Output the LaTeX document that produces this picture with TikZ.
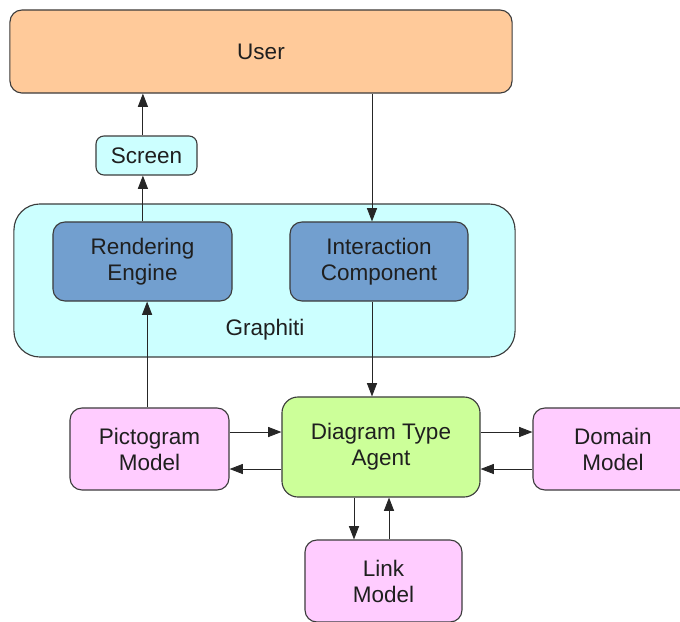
\documentclass[tikz,border=0pt]{standalone}
\usepackage{fontspec}
\setmainfont{Liberation Sans}
\usepackage{tikz}
\usetikzlibrary{arrows.meta}

\definecolor{userfill}{HTML}{FFCA9A}
\definecolor{cyanfill}{HTML}{CCFFFF}
\definecolor{bluefill}{HTML}{729FCF}
\definecolor{pinkfill}{HTML}{FFCCFF}
\definecolor{greenfill}{HTML}{CCFF99}
\definecolor{edge}{HTML}{3C3C3C}

\tikzset{
  box/.style={draw=edge,line width=0.8pt,rounded corners=0.3cm,align=center,
    text=black!88,font=\fontsize{16}{18.5}\selectfont,inner sep=0pt},
  arr/.style={-{Triangle[length=0.33cm,width=0.25cm]},line width=0.6pt,black!85}
}

\begin{document}
\begin{tikzpicture}[x=0.025cm,y=-0.025cm]
\useasboundingbox (0,0) rectangle (680,621);
% top
\node[box,fill=userfill,minimum width=12.55cm,minimum height=2.075cm] (usr) at (261,51.5) {User};
\node[box,fill=cyanfill,rounded corners=0.2cm,minimum width=2.525cm,minimum height=0.975cm] (scr) at (146.5,155.5) {Screen};
% graphiti container
\node[box,fill=cyanfill,rounded corners=0.65cm,minimum width=12.525cm,minimum height=3.825cm] (gra) at (264.5,280.5) {};
\node[text=black!88,font=\fontsize{16}{18.5}\selectfont] (gralbl) at (265,330) {Graphiti};
\node[box,fill=bluefill,minimum width=4.475cm,minimum height=1.975cm] (ren) at (142.5,261.5) {Rendering\\Engine};
\node[box,fill=bluefill,minimum width=4.45cm,minimum height=1.975cm] (ia) at (379,261.5) {Interaction\\Component};
% models
\node[box,fill=pinkfill,minimum width=3.975cm,minimum height=2.05cm] (pict) at (149.5,449) {Pictogram\\Model};
\node[box,fill=greenfill,rounded corners=0.4cm,minimum width=4.95cm,minimum height=2.5cm] (dta) at (381,447) {Diagram Type\\Agent};
\node[box,fill=pinkfill,minimum width=4cm,minimum height=2.05cm] (dom) at (613,449) {Domain\\Model};
\node[box,fill=pinkfill,minimum width=3.925cm,minimum height=2.05cm] (lnk) at (383.5,581) {Link\\Model};

% connectors
\draw[arr] ([xshift=-0.09cm]scr.north) -- ([xshift=-0.09cm]scr.north |- usr.south);
\draw[arr] ([xshift=0.01cm]ren.north) -- ([xshift=0.01cm]ren.north |- scr.south);
\draw[arr] ([xshift=-0.175cm]ia.north |- usr.south) -- ([xshift=-0.175cm]ia.north);
\draw[arr] ([xshift=-0.175cm]ia.south) -- ([xshift=-0.175cm]ia.south |- dta.north);
\draw[arr] ([xshift=-0.06cm]pict.north) -- ([xshift=-0.06cm]pict.north |- ren.south);
\draw[arr] ([yshift=0.425cm]pict.east) -- ([yshift=0.425cm]pict.east -| dta.west);
\draw[arr] ([yshift=-0.5cm]pict.east -| dta.west) -- ([yshift=-0.5cm]pict.east);
\draw[arr] ([yshift=0.425cm]dom.west -| dta.east) -- ([yshift=0.425cm]dom.west);
\draw[arr] ([yshift=-0.5cm]dom.west) -- ([yshift=-0.5cm]dom.west -| dta.east);
\draw[arr] ([xshift=-0.7375cm]lnk.north |- dta.south) -- ([xshift=-0.7375cm]lnk.north);
\draw[arr] ([xshift=0.1375cm]lnk.north) -- ([xshift=0.1375cm]lnk.north |- dta.south);
\end{tikzpicture}
\end{document}
